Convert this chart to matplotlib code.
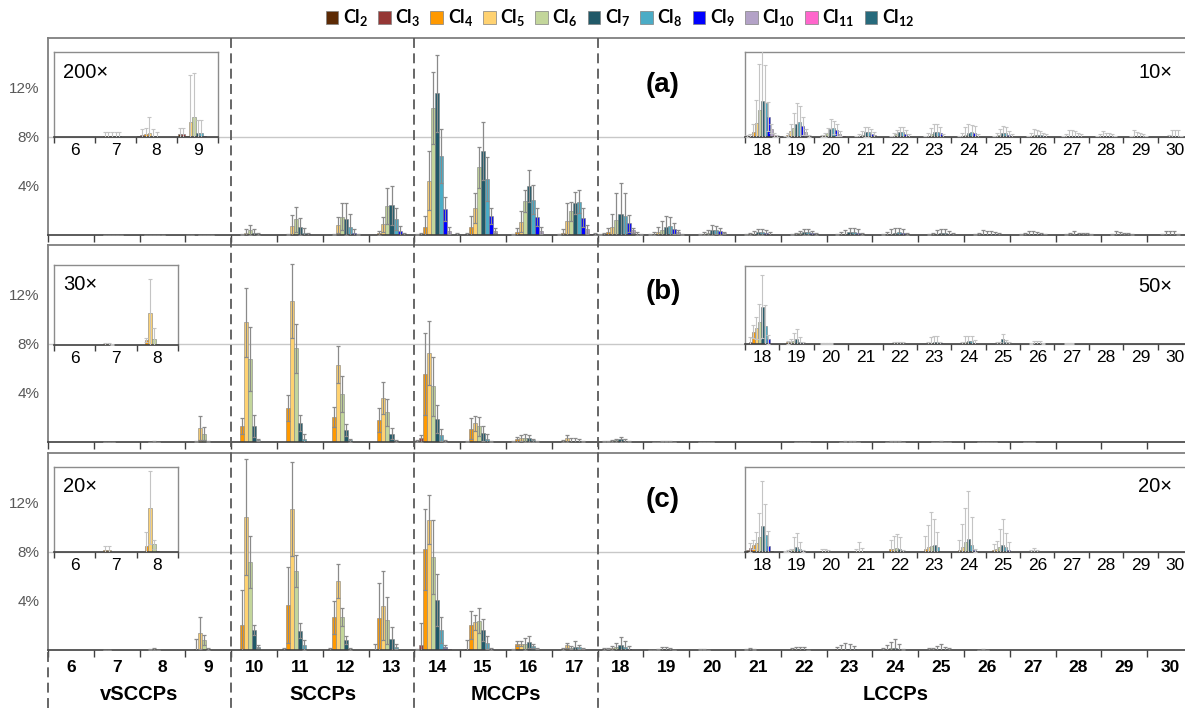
import numpy as np
import matplotlib
matplotlib.use('Agg')
import matplotlib.pyplot as plt
from matplotlib.patches import Patch
from matplotlib.lines import Line2D
from matplotlib.transforms import blended_transform_factory

plt.rcParams['font.family'] = ['Liberation Sans', 'DejaVu Sans']
plt.rcParams['mathtext.fontset'] = 'custom'
plt.rcParams['mathtext.rm'] = 'Lato'
plt.rcParams['mathtext.bf'] = 'Lato:bold'

# -- data --
chains = list(range(6, 31))
cl_labels = [r'$\mathbf{Cl_{%d}}$' % n for n in range(2, 13)]
cl_colors = ['#5c2a05', '#953735', '#ff9900', '#ffd271', '#c3d69b', '#215968',
             '#4bacc6', '#0000ff', '#b3a2c7', '#ff66cc', '#276a7c']
groups = ['vSCCPs', 'SCCPs', 'MCCPs', 'LCCPs']
group_edges = [0, 4, 8, 12, 25]

# rows = chain length 6..30, columns = Cl2..Cl12 (%)
a_mean = [
    [0, 0, 0, 0, 0, 0, 0, 0, 0, 0, 0],
    [0, 0, 0.0002, 0.0002, 0.0002, 0.0002, 0.0002, 0, 0, 0, 0],
    [0.0002, 0.0004, 0.0006, 0.001, 0.0003, 0.0002, 0.0001, 0, 0, 0, 0],
    [0.0006, 0.0006, 0.0002, 0.0036, 0.0048, 0.001, 0.001, 0.0002, 0, 0, 0],
    [0, 0, 0.02, 0.2, 0.4, 0.2, 0.08, 0.02, 0, 0, 0],
    [0, 0, 0.05, 0.73, 1.28, 0.68, 0.2, 0.05, 0.02, 0, 0],
    [0, 0, 0.05, 0.8, 1.47, 1.33, 0.63, 0.2, 0.03, 0, 0],
    [0, 0.02, 0.15, 0.87, 2.37, 2.4, 1.28, 0.33, 0.05, 0, 0],
    [0.03, 0.05, 0.68, 4.4, 10.3, 11.5, 6.4, 2.1, 0.35, 0.02, 0.05],
    [0, 0.05, 0.68, 2.18, 5.5, 6.8, 4.54, 1.55, 0.35, 0.02, 0.03],
    [0, 0.03, 0.25, 1.09, 2.75, 4.0, 2.88, 1.47, 0.35, 0.03, 0.03],
    [0, 0.02, 0.2, 1.14, 1.93, 2.61, 2.7, 1.41, 0.46, 0.05, 0.1],
    [0.03, 0.05, 0.24, 0.68, 1.25, 1.69, 1.58, 0.96, 0.4, 0.11, 0.03],
    [0, 0.02, 0.11, 0.27, 0.43, 0.63, 0.71, 0.52, 0.24, 0.05, 0.02],
    [0, 0, 0.03, 0.11, 0.2, 0.4, 0.43, 0.32, 0.16, 0.03, 0],
    [0, 0, 0.02, 0.06, 0.1, 0.24, 0.24, 0.16, 0.08, 0.02, 0],
    [0, 0, 0.02, 0.05, 0.13, 0.22, 0.22, 0.14, 0.06, 0.02, 0],
    [0, 0, 0.02, 0.06, 0.12, 0.24, 0.24, 0.2, 0.06, 0.02, 0],
    [0, 0, 0.02, 0.06, 0.1, 0.2, 0.22, 0.2, 0.06, 0.02, 0],
    [0, 0, 0.02, 0.05, 0.08, 0.17, 0.17, 0.1, 0.04, 0, 0],
    [0, 0, 0.01, 0.04, 0.08, 0.1, 0.1, 0.06, 0.03, 0, 0],
    [0, 0, 0.01, 0.03, 0.05, 0.06, 0.06, 0.05, 0.02, 0, 0],
    [0, 0, 0.01, 0.03, 0.04, 0.05, 0.04, 0.03, 0.02, 0, 0],
    [0, 0, 0.01, 0.04, 0.04, 0.04, 0.03, 0.02, 0.01, 0, 0],
    [0, 0, 0, 0.01, 0.02, 0.03, 0.03, 0.02, 0.01, 0, 0],
]
a_err = [
    [0, 0, 0, 0, 0, 0, 0, 0, 0, 0, 0],
    [0, 0, 0.001, 0.001, 0.001, 0.001, 0.001, 0, 0, 0, 0],
    [0, 0.0015, 0.0015, 0.0036, 0.0015, 0.001, 0, 0, 0, 0, 0],
    [0.0015, 0.0015, 0, 0.011, 0.0102, 0.003, 0.003, 0, 0, 0, 0],
    [0, 0, 0.03, 0.25, 0.4, 0.25, 0.1, 0, 0, 0, 0],
    [0, 0, 0.05, 0.9, 1.0, 0.7, 0.35, 0.1, 0, 0, 0],
    [0, 0, 0.05, 0.67, 1.1, 1.3, 1.1, 0.3, 0.05, 0, 0],
    [0, 0, 0.15, 0.6, 1.45, 1.55, 0.9, 0.4, 0.1, 0, 0],
    [0.05, 0.1, 0.9, 2.4, 2.9, 3.1, 2.2, 1.0, 0.3, 0, 0.1],
    [0, 0.1, 0.87, 1.22, 1.66, 2.37, 1.8, 0.68, 0.2, 0, 0],
    [0, 0.05, 0.35, 0.87, 0.9, 1.28, 1.15, 0.71, 0.27, 0, 0],
    [0, 0.05, 0.3, 1.42, 0.79, 0.89, 0.95, 0.77, 0.34, 0, 0.1],
    [0.05, 0.1, 0.35, 1.06, 2.18, 2.5, 1.8, 0.7, 0.2, 0.1, 0.05],
    [0, 0.05, 0.1, 0.36, 0.71, 0.95, 0.76, 0.43, 0.16, 0.05, 0],
    [0, 0, 0.05, 0.1, 0.23, 0.44, 0.31, 0.28, 0.1, 0, 0],
    [0, 0, 0.05, 0.1, 0.2, 0.25, 0.25, 0.22, 0.15, 0, 0],
    [0, 0, 0.05, 0.12, 0.22, 0.25, 0.25, 0.2, 0.1, 0, 0],
    [0, 0, 0.05, 0.15, 0.3, 0.35, 0.35, 0.25, 0.1, 0, 0],
    [0, 0, 0.05, 0.15, 0.35, 0.4, 0.35, 0.3, 0.1, 0, 0],
    [0, 0, 0.05, 0.15, 0.3, 0.35, 0.3, 0.2, 0.1, 0, 0],
    [0, 0, 0.05, 0.15, 0.3, 0.25, 0.2, 0.15, 0.1, 0, 0],
    [0, 0, 0.05, 0.1, 0.3, 0.25, 0.2, 0.15, 0.1, 0, 0],
    [0, 0, 0.05, 0.1, 0.25, 0.15, 0.15, 0.1, 0.05, 0, 0],
    [0, 0, 0.05, 0.3, 0.2, 0.15, 0.1, 0.05, 0, 0, 0],
    [0, 0, 0, 0.1, 0.3, 0.3, 0.3, 0.05, 0, 0, 0],
]
b_mean = [
    [0, 0, 0, 0, 0, 0, 0, 0, 0, 0, 0],
    [0, 0, 0.001, 0.001, 0.0005, 0, 0, 0, 0, 0, 0],
    [0, 0, 0.0078, 0.052, 0.01, 0.0013, 0, 0, 0, 0, 0],
    [0, 0, 0.05, 1.15, 0.68, 0.05, 0, 0, 0, 0, 0],
    [0, 0.02, 1.27, 9.73, 6.72, 1.3, 0.16, 0.02, 0, 0, 0],
    [0, 0.02, 2.76, 11.46, 7.6, 1.52, 0.22, 0.02, 0, 0, 0],
    [0, 0.02, 2.03, 6.26, 3.9, 0.95, 0.14, 0.02, 0, 0, 0],
    [0, 0.02, 1.79, 3.55, 2.41, 0.68, 0.1, 0.02, 0, 0, 0],
    [0.1, 0.3, 5.53, 7.2, 4.53, 1.84, 0.57, 0.1, 0.02, 0, 0],
    [0, 0.05, 1.08, 1.52, 1.27, 0.7, 0.22, 0.05, 0.02, 0, 0],
    [0, 0.05, 0.22, 0.3, 0.33, 0.3, 0.14, 0.05, 0, 0, 0],
    [0, 0, 0.08, 0.3, 0.12, 0.1, 0.08, 0.03, 0, 0, 0],
    [0, 0.015, 0.08, 0.1, 0.144, 0.24, 0.118, 0.03, 0, 0, 0],
    [0, 0, 0.01, 0.015, 0.02, 0.035, 0.015, 0.005, 0, 0, 0],
    [0, 0, 0.003, 0.003, 0.003, 0.003, 0.002, 0, 0, 0, 0],
    [0, 0, 0, 0, 0, 0, 0, 0, 0, 0, 0],
    [0, 0, 0, 0.005, 0.006, 0.006, 0.003, 0, 0, 0, 0],
    [0, 0, 0, 0.004, 0.008, 0.015, 0.015, 0.004, 0, 0, 0],
    [0, 0, 0, 0.005, 0.01, 0.02, 0.02, 0.008, 0, 0, 0],
    [0, 0, 0, 0.003, 0.005, 0.03, 0.01, 0.003, 0, 0, 0],
    [0, 0, 0, 0.002, 0.003, 0.005, 0.005, 0.002, 0, 0, 0],
    [0, 0, 0, 0.001, 0.002, 0.002, 0.001, 0, 0, 0, 0],
    [0, 0, 0, 0, 0, 0, 0, 0, 0, 0, 0],
    [0, 0, 0, 0, 0, 0, 0, 0, 0, 0, 0],
    [0, 0, 0, 0, 0, 0, 0, 0, 0, 0, 0],
]
b_err = [
    [0, 0, 0, 0, 0, 0, 0, 0, 0, 0, 0],
    [0, 0, 0.002, 0.002, 0.001, 0, 0, 0, 0, 0, 0],
    [0, 0, 0.003, 0.056, 0.017, 0, 0, 0, 0, 0, 0],
    [0, 0, 0.05, 0.95, 0.5, 0.05, 0, 0, 0, 0, 0],
    [0, 0, 0.65, 2.8, 2.6, 0.9, 0.1, 0, 0, 0, 0],
    [0, 0, 1.06, 3.0, 2.0, 0.65, 0.45, 0, 0, 0, 0],
    [0, 0, 0.84, 1.5, 1.44, 0.5, 0.1, 0, 0, 0, 0],
    [0, 0, 0.95, 1.3, 1.08, 0.46, 0.1, 0, 0, 0, 0],
    [0.1, 0.27, 3.3, 2.6, 2.4, 1.14, 0.5, 0.1, 0, 0, 0],
    [0, 0.05, 0.84, 0.62, 0.76, 0.6, 0.4, 0.05, 0, 0, 0],
    [0, 0.05, 0.2, 0.25, 0.35, 0.3, 0.1, 0.05, 0, 0, 0],
    [0, 0, 0.1, 0.3, 0.2, 0.2, 0.15, 0.05, 0, 0, 0],
    [0, 0.03, 0.04, 0.07, 0.11, 0.2, 0.13, 0.03, 0, 0, 0],
    [0, 0, 0.01, 0.02, 0.05, 0.06, 0.03, 0.01, 0, 0, 0],
    [0, 0, 0.004, 0.004, 0.004, 0.004, 0, 0, 0, 0, 0],
    [0, 0, 0, 0, 0, 0, 0, 0, 0, 0, 0],
    [0, 0, 0, 0.01, 0.01, 0.01, 0.01, 0, 0, 0, 0],
    [0, 0, 0, 0.01, 0.035, 0.035, 0.035, 0.01, 0, 0, 0],
    [0, 0, 0, 0.01, 0.04, 0.03, 0.03, 0.02, 0, 0, 0],
    [0, 0, 0, 0.01, 0.01, 0.035, 0.015, 0.01, 0, 0, 0],
    [0, 0, 0, 0.005, 0.015, 0.015, 0.015, 0.005, 0, 0, 0],
    [0, 0, 0, 0.003, 0.005, 0.003, 0, 0, 0, 0, 0],
    [0, 0, 0, 0, 0, 0, 0, 0, 0, 0, 0],
    [0, 0, 0, 0, 0, 0, 0, 0, 0, 0, 0],
    [0, 0, 0, 0, 0, 0, 0, 0, 0, 0, 0],
]
c_mean = [
    [0, 0, 0, 0, 0, 0, 0, 0, 0, 0, 0],
    [0, 0, 0.004, 0.004, 0, 0, 0, 0, 0, 0, 0],
    [0, 0, 0.014, 0.104, 0.018, 0.003, 0, 0, 0, 0, 0],
    [0, 0, 0.1, 1.39, 0.8, 0.08, 0, 0, 0, 0, 0],
    [0, 0, 2.06, 10.79, 7.13, 1.63, 0.27, 0, 0, 0, 0],
    [0, 0.05, 3.66, 11.44, 6.42, 1.57, 0.4, 0.02, 0, 0, 0],
    [0, 0.05, 2.66, 5.61, 2.66, 0.81, 0.1, 0.02, 0, 0, 0],
    [0, 0.02, 2.57, 3.6, 2.41, 0.9, 0.27, 0.02, 0, 0, 0],
    [0.05, 0.38, 8.18, 10.57, 7.53, 4.04, 1.63, 0.27, 0.05, 0, 0],
    [0, 0.05, 2.06, 2.25, 2.38, 1.63, 0.6, 0.1, 0.02, 0, 0],
    [0, 0.05, 0.51, 0.51, 0.46, 0.65, 0.3, 0.1, 0, 0, 0],
    [0, 0, 0.1, 0.4, 0.2, 0.27, 0.27, 0.1, 0, 0, 0],
    [0.025, 0.064, 0.11, 0.13, 0.22, 0.38, 0.25, 0.09, 0.01, 0, 0],
    [0, 0.01, 0.015, 0.02, 0.05, 0.074, 0.04, 0.015, 0, 0, 0],
    [0, 0, 0.015, 0.015, 0.01, 0.005, 0, 0, 0, 0, 0],
    [0, 0, 0.015, 0.02, 0.01, 0.003, 0, 0, 0, 0, 0],
    [0, 0, 0.045, 0.05, 0.06, 0.045, 0.01, 0, 0, 0, 0],
    [0, 0, 0.05, 0.08, 0.094, 0.11, 0.07, 0, 0, 0, 0],
    [0, 0, 0.035, 0.07, 0.14, 0.19, 0.11, 0.025, 0, 0, 0],
    [0, 0, 0.025, 0.04, 0.074, 0.11, 0.074, 0.025, 0, 0, 0],
    [0, 0, 0, 0.005, 0.01, 0.005, 0, 0, 0, 0, 0],
    [0, 0, 0, 0.001, 0.002, 0.001, 0, 0, 0, 0, 0],
    [0, 0, 0, 0.001, 0.002, 0.001, 0, 0, 0, 0, 0],
    [0, 0, 0, 0.001, 0.001, 0.001, 0, 0, 0, 0, 0],
    [0, 0, 0, 0.001, 0.001, 0.001, 0, 0, 0, 0, 0],
]
c_err = [
    [0, 0, 0, 0, 0, 0, 0, 0, 0, 0, 0],
    [0, 0, 0.01, 0.01, 0, 0, 0, 0, 0, 0, 0],
    [0, 0, 0.034, 0.086, 0.01, 0, 0, 0, 0, 0, 0],
    [0, 0, 0.8, 1.33, 0.4, 0.05, 0, 0, 0, 0, 0],
    [0, 0, 2.8, 4.7, 2.1, 0.4, 0.1, 0, 0, 0, 0],
    [0, 0.1, 3.1, 3.8, 1.3, 0.6, 0.4, 0, 0, 0, 0],
    [0, 0.1, 1.33, 1.36, 0.73, 0.3, 0.1, 0, 0, 0, 0],
    [0, 0.5, 2.85, 2.8, 1.93, 0.95, 0.2, 0, 0, 0, 0],
    [0.05, 1.8, 3.28, 2.0, 3.0, 2.1, 1.08, 0.1, 0, 0, 0],
    [0, 0.8, 1.14, 0.62, 1.03, 0.9, 0.5, 0.1, 0, 0, 0],
    [0, 0.05, 0.22, 0.22, 0.5, 0.46, 0.15, 0.05, 0, 0, 0],
    [0, 0, 0.1, 0.2, 0.15, 0.46, 0.15, 0.05, 0, 0, 0],
    [0, 0.07, 0.065, 0.16, 0.35, 0.67, 0.45, 0.22, 0, 0, 0],
    [0, 0.01, 0.02, 0.03, 0.17, 0.2, 0.11, 0.02, 0, 0, 0],
    [0, 0, 0.03, 0.03, 0.02, 0, 0, 0, 0, 0, 0],
    [0, 0, 0.03, 0.12, 0.05, 0, 0, 0, 0, 0, 0],
    [0, 0, 0.13, 0.18, 0.2, 0.18, 0.02, 0, 0, 0, 0],
    [0, 0, 0.18, 0.31, 0.49, 0.37, 0.22, 0, 0, 0, 0],
    [0, 0, 0.14, 0.34, 0.5, 0.7, 0.41, 0.02, 0, 0, 0],
    [0, 0, 0.1, 0.12, 0.27, 0.38, 0.21, 0.12, 0, 0, 0],
    [0, 0, 0, 0.03, 0.05, 0.03, 0, 0, 0, 0, 0],
    [0, 0, 0, 0, 0, 0, 0, 0, 0, 0, 0],
    [0, 0, 0, 0, 0, 0, 0, 0, 0, 0, 0],
    [0, 0, 0, 0, 0, 0, 0, 0, 0, 0, 0],
    [0, 0, 0, 0, 0, 0, 0, 0, 0, 0, 0],
]

# inset settings: (rows shown, y top in %, magnification label)
a_insets = [(list(range(0, 4)), 0.02, '200×'), (list(range(12, 25)), 4.0, '10×')]
b_insets = [(list(range(0, 3)), 0.13, '30×'), (list(range(12, 25)), 0.5, '50×')]
c_insets = [(list(range(0, 3)), 0.2, '20×'), (list(range(12, 25)), 1.25, '20×')]

# -- layout (pixels) --
W, H = 1185, 708
X0, CW = 48, 45.8
BW = 0.0875


def rect(x, top, w, h):
    return [x / W, 1 - (top + h) / H, w / W, h / H]


def draw_bars(ax, mean, err, rows, ecolor, elw):
    m = np.array(mean)[rows]
    e = np.array(err)[rows]
    xc = np.arange(len(rows)) + 0.5
    for j in range(11):
        x = xc + (j - 5) * BW
        ax.bar(x, m[:, j], BW, color=cl_colors[j], edgecolor='#808080',
               linewidth=0.4, zorder=2)
        k = e[:, j] > 0
        if k.any():
            ax.errorbar(x[k], m[k, j], yerr=e[k, j], fmt='none', ecolor=ecolor,
                        elinewidth=elw, capsize=1.6, capthick=elw, zorder=3)


fig = plt.figure(figsize=(W / 100, H / 100), dpi=100)

panels = [('(a)', a_mean, a_err, a_insets, 38),
          ('(b)', b_mean, b_err, b_insets, 245),
          ('(c)', c_mean, c_err, c_insets, 453)]
inset_geo = [[(54, 52, 164, 85), (745, 52, 447, 85)],
             [(54, 265, 124, 80), (745, 266, 447, 78)],
             [(54, 467, 124, 85), (745, 467, 447, 85)]]

main_axes = []
for p, (tag, mean, err, insets, top) in enumerate(panels):
    ax = fig.add_axes(rect(X0, top, 25 * CW, 197))
    ax.set_xlim(0, 25)
    ax.set_ylim(0, 16)
    ax.axhline(8, color='#c8c8c8', lw=1, zorder=1)
    draw_bars(ax, mean, err, list(range(25)), '#8a8a8a', 0.9)
    ax.set_xticks(range(26))
    ax.set_xticklabels([])
    ax.tick_params(axis='x', direction='out', length=5, width=1, color='#404040')
    ax.set_yticks([4, 8, 12])
    ax.set_yticklabels(['4%', '8%', '12%'])
    ax.tick_params(axis='y', length=0, pad=6, labelsize=11, labelcolor='#595959')
    for s in ['left', 'top']:
        ax.spines[s].set_color('#7f7f7f')
        ax.spines[s].set_linewidth(1.3)
    ax.spines['bottom'].set_color('#404040')
    ax.spines['bottom'].set_linewidth(1.2)
    ax.spines['right'].set_visible(False)
    fig.text(663 / W, 1 - (85 + (top - 38)) / H, tag,
             ha='center', va='center', fontsize=20, fontweight='bold')
    main_axes.append(ax)

    # -- insets --
    for k, (rows, ytop, mag) in enumerate(insets):
        gx, gt, gw, gh = inset_geo[p][k]
        ia = fig.add_axes(rect(gx, gt, gw, gh))
        ia.set_facecolor('white')
        ia.set_xlim(0, len(rows))
        ia.set_ylim(0, ytop)
        draw_bars(ia, mean, err, rows, '#c4c4c4', 0.8)
        ia.set_xticks(range(len(rows) + 1))
        ia.set_xticklabels([])
        ia.set_xticks(np.arange(len(rows)) + 0.5, minor=True)
        ia.set_xticklabels([str(chains[r]) for r in rows], minor=True)
        ia.tick_params(axis='x', which='major', direction='out', length=4,
                       width=1, color='#404040')
        ia.tick_params(axis='x', which='minor', length=0, pad=4, labelsize=12.5)
        ia.set_yticks([])
        for s in ['left', 'top', 'right']:
            ia.spines[s].set_color('#8c8c8c')
            ia.spines[s].set_linewidth(1)
        ia.spines['bottom'].set_color('#404040')
        ia.spines['bottom'].set_linewidth(1.2)
        if k == 0:
            fig.text((gx + 9) / W, 1 - (gt + 20) / H, mag, ha='left', va='center',
                     fontsize=14.5)
        else:
            fig.text(1172 / W, 1 - (gt + 20) / H, mag, ha='right', va='center',
                     fontsize=14.5)

# -- dashed separators and bottom labels --
axc = main_axes[-1]
tr = blended_transform_factory(axc.transData, fig.transFigure)
for xe in group_edges[:-1]:
    y_top = 1 - 38 / H if xe > 0 else 1 - 652 / H
    fig.add_artist(Line2D([xe, xe], [y_top, 0], transform=tr, color='#5a5a5a',
                          lw=1.3, dashes=(5.5, 3), clip_on=False, zorder=5))
for i, ch in enumerate(chains):
    fig.text(i + 0.5, 1 - 668 / H, str(ch), transform=tr, ha='center', va='center',
             fontsize=12.5, fontweight='bold')
for g, name in enumerate(groups):
    xm = (group_edges[g] + group_edges[g + 1]) / 2
    fig.text(xm, 1 - 695 / H, name, transform=tr, ha='center', va='center',
             fontsize=14.5, fontweight='bold')

# -- legend --
handles = [Patch(facecolor=c, edgecolor='#808080', linewidth=0.5) for c in cl_colors]
fig.legend(handles, cl_labels, loc='center', bbox_to_anchor=(620 / W, 1 - 18 / H),
           ncol=11, frameon=False, fontsize=13, handlelength=0.7, handleheight=0.7,
           handletextpad=0.25, columnspacing=0.55, borderaxespad=0)

fig.savefig('out.png', dpi=100)
